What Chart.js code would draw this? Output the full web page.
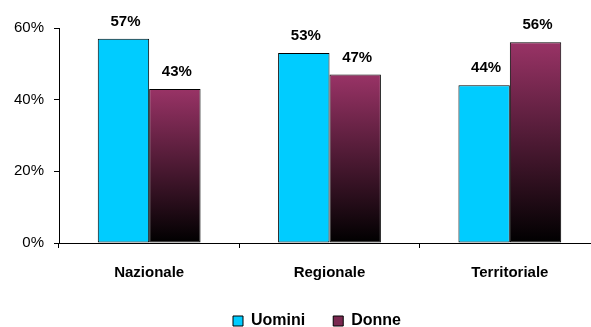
<!DOCTYPE html>
<html>
<head>
<meta charset="utf-8">
<script src="https://cdn.jsdelivr.net/npm/chart.js@4"></script>
<style>
  html, body { margin: 0; padding: 0; background: #fff; overflow: hidden; }
  #wrap { width: 600px; height: 340px; }
</style>
</head>
<body>
<div id="wrap"><canvas id="grafico"></canvas></div>
<script>
const categorie = ["Nazionale", "Regionale", "Territoriale"];
const uomini = [57, 53, 44];
const donne = [43, 47, 56];
const tickY = [0, 20, 40, 60];

const FONT = "'Liberation Sans', Arial, sans-serif";

// sfumatura bordeaux -> nero per ogni barra
function gradienteDonne(ctx) {
    const chart = ctx.chart;
    if (!chart.chartArea || ctx.raw === undefined) return "#7a2850";
    const y = chart.scales.y;
    const top = y.getPixelForValue(ctx.raw);
    const bottom = y.getPixelForValue(0);
    const g = chart.ctx.createLinearGradient(0, top, 0, bottom);
    g.addColorStop(0, "#993366");
    g.addColorStop(1, "#000000");
    return g;
}

// etichette percentuali sopra le barre
const etichette = {
    id: "etichette",
    afterDatasetsDraw(chart) {
        const c = chart.ctx;
        c.save();
        c.font = "bold 15px " + FONT;
        c.fillStyle = "#000";
        c.textAlign = "center";
        c.textBaseline = "alphabetic";
        chart.data.datasets.forEach((ds, i) => {
            chart.getDatasetMeta(i).data.forEach((bar, j) => {
                c.fillText(ds.data[j] + "%", bar.x + 2, bar.y - 13);
            });
        });
        c.restore();
    }
};

// sposta la legenda un po' a destra come nell'originale
const spostaLegenda = {
    id: "spostaLegenda",
    afterLayout(chart) {
        chart.legend.left += 17;
        chart.legend.right += 17;
    }
};

new Chart(document.getElementById("grafico"), {
    type: "bar",
    data: {
        labels: categorie,
        datasets: [{
            label: "Uomini",
            data: uomini,
            backgroundColor: "#00CCFF",
            borderColor: "#000",
            borderWidth: 1,
            borderSkipped: false
        }, {
            label: "Donne",
            data: donne,
            backgroundColor: gradienteDonne,
            borderColor: "#000",
            borderWidth: 1,
            borderSkipped: false
        }]
    },
    options: {
        responsive: true,
        maintainAspectRatio: false,
        animation: false,
        datasets: { bar: { categoryPercentage: 0.57, barPercentage: 1 } },
        layout: { padding: { top: 28, bottom: 1, left: 0, right: 0 } },
        plugins: {
            tooltip: { enabled: false },
            legend: {
                position: "bottom",
                labels: {
                    boxWidth: 10,
                    boxHeight: 10,
                    padding: 28,
                    color: "#000",
                    font: { family: FONT, size: 16, weight: "bold" },
                    generateLabels(chart) {
                        const items = Chart.defaults.plugins.legend.labels.generateLabels(chart);
                        items[1].fillStyle = "#7a2850";
                        return items;
                    }
                }
            }
        },
        scales: {
            x: {
                grid: { offset: true, drawOnChartArea: false, drawTicks: true, tickLength: 5, color: "#000" },
                border: { color: "#000", width: 1 },
                ticks: { color: "#000", padding: 16, font: { family: FONT, size: 15, weight: "bold" } },
                afterFit(scale) { scale.height = 42; }
            },
            y: {
                min: 0,
                max: 60,
                afterBuildTicks(scale) { scale.ticks = tickY.map(v => ({ value: v })); },
                grid: { drawOnChartArea: false, drawTicks: true, tickLength: 5, color: "#000" },
                border: { color: "#000", width: 1 },
                ticks: {
                    color: "#000",
                    padding: 10,
                    font: { family: FONT, size: 15 },
                    callback: v => v + "%"
                },
                afterFit(scale) { scale.width = 59; }
            }
        }
    },
    plugins: [etichette, spostaLegenda]
});
</script>
</body>
</html>
